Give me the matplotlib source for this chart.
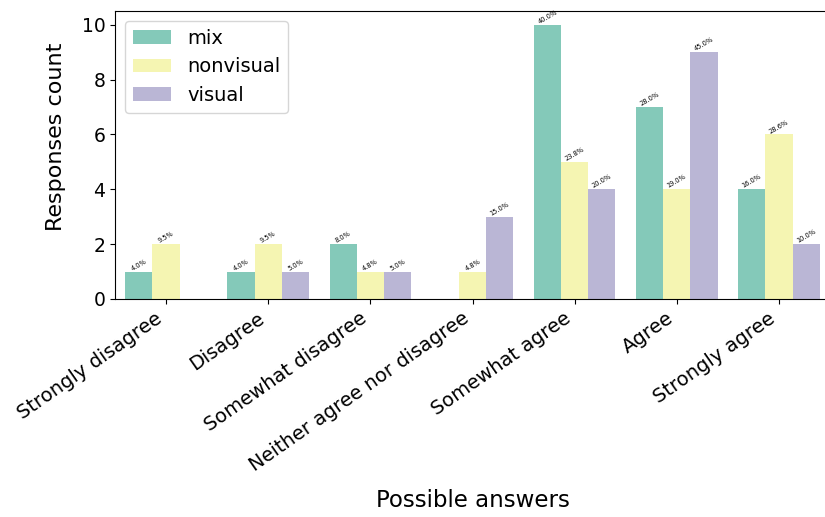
import numpy as np
import matplotlib
matplotlib.use("Agg")
import matplotlib.pyplot as plt

categories = ["Strongly disagree", "Disagree", "Somewhat disagree",
              "Neither agree nor disagree", "Somewhat agree", "Agree",
              "Strongly agree"]
groups = ["mix", "nonvisual", "visual"]
mix = [1, 1, 2, 0, 10, 7, 4]
nonvisual = [2, 2, 1, 1, 5, 4, 6]
visual = [0, 1, 1, 3, 4, 9, 2]
series = [mix, nonvisual, visual]

colors = ["#84c9b9", "#f5f5b2", "#bab6d5"]

fig = plt.figure(figsize=(8.25, 5.17), dpi=100)
ax = fig.add_axes([115 / 825, (517 - 299) / 517, 715 / 825, 288 / 517])

x = np.arange(len(categories))
n = len(groups)
width = 0.8 / n
for i, (name, vals, col) in enumerate(zip(groups, series, colors)):
    pos = x - 0.4 + width * (i + 0.5)
    bars = ax.bar(pos, vals, width, color=col, label=name)
    total = sum(vals)
    for b, v in zip(bars, vals):
        if v == 0:
            continue
        ax.text(b.get_x() + b.get_width() / 2, b.get_height(),
                f"{100 * v / total:.1f}%", ha="center", va="bottom",
                rotation=30, fontsize=4.8)

ax.set_xlim(-0.5, len(categories) - 0.5)
ax.set_ylim(0, 10.5)
ax.set_xticks(x)
ax.set_xticklabels(categories, rotation=35, ha="right", fontsize=14)
ax.tick_params(axis="y", labelsize=13.5)
ax.set_yticks([0, 2, 4, 6, 8, 10])
ax.set_ylabel("Responses count", fontsize=16)
ax.yaxis.set_label_coords(-0.068, 0.5625)
ax.set_xlabel("Possible answers", fontsize=16.5, labelpad=10)
ax.legend(loc="upper left", fontsize=14)

fig.savefig("out.png", dpi=100)
